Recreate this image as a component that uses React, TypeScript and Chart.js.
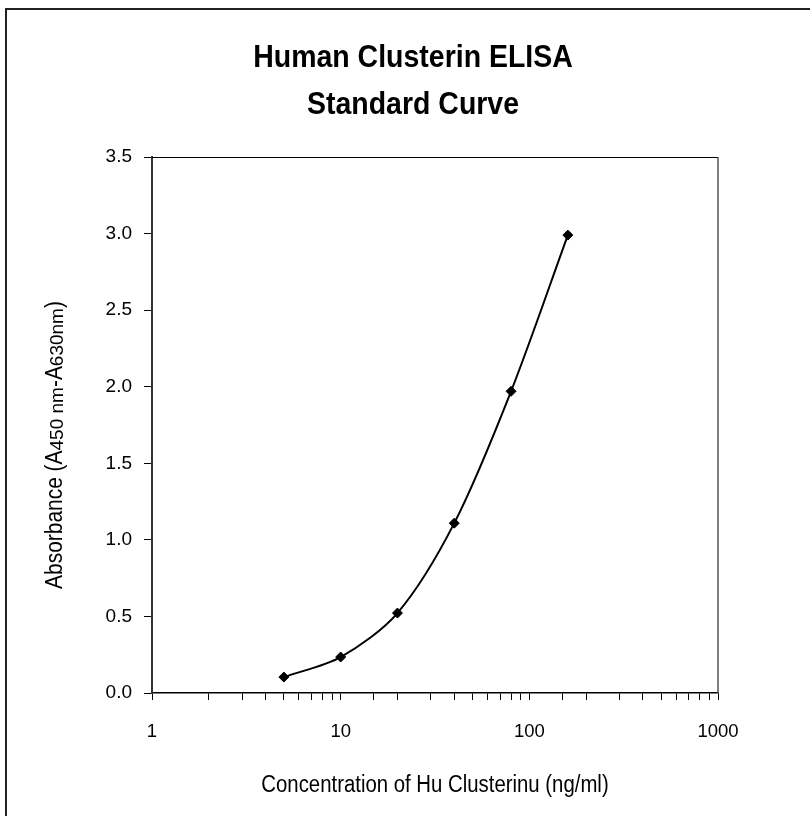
import React, { useEffect, useRef } from "react";
import { Chart, registerables } from "chart.js";

Chart.register(...registerables);

const titleLines = ["Human Clusterin ELISA", "Standard Curve"];
const xAxisTitle = "Concentration of Hu Clusterinu (ng/ml)";
const yAxisTitleParts = ["Absorbance (A", "450 nm", "-A", "630nm", ")"];
const yAxisTitleIsSub = [false, true, false, true, false];
const concentrations = [5, 10, 20, 40, 80, 160];
const absorbances = [0.104, 0.235, 0.522, 1.109, 1.97, 2.99];
const xLabelValues = [1, 10, 100, 1000];
const yMin = 0;
const yMax = 3.5;
const yStep = 0.5;

const FONT = '"Liberation Sans", Arial, Helvetica, sans-serif';

const decorPlugin = {
  id: "decor",
  beforeDraw(chart: any) {
    const ctx = chart.ctx;
    ctx.save();
    ctx.fillStyle = "#fff";
    ctx.fillRect(0, 0, chart.width, chart.height);
    ctx.fillStyle = "#222";
    ctx.fillRect(5, 8, chart.width, 2);
    ctx.fillRect(5, 8, 2, chart.height);
    ctx.restore();
  },
  afterDraw(chart: any) {
    const ctx = chart.ctx;
    const ca = chart.chartArea;
    ctx.save();
    ctx.strokeStyle = "#000";
    ctx.lineWidth = 1;
    ctx.beginPath();
    ctx.moveTo(ca.left, ca.top + 0.5);
    ctx.lineTo(ca.right, ca.top + 0.5);
    ctx.stroke();
    ctx.strokeStyle = "#555";
    ctx.lineWidth = 1.5;
    ctx.beginPath();
    ctx.moveTo(ca.right, ca.top);
    ctx.lineTo(ca.right, ca.bottom);
    ctx.stroke();

    ctx.fillStyle = "#000";
    // title
    ctx.save();
    ctx.font = "bold 32px " + FONT;
    ctx.textAlign = "center";
    ctx.textBaseline = "alphabetic";
    ctx.translate(413, 0);
    ctx.scale(0.89, 1);
    ctx.fillText(titleLines[0], 0, 67);
    ctx.fillText(titleLines[1], 0, 114);
    ctx.restore();

    // x axis title
    ctx.save();
    ctx.font = "23px " + FONT;
    ctx.textAlign = "center";
    ctx.textBaseline = "alphabetic";
    ctx.translate((ca.left + ca.right) / 2, 792);
    ctx.scale(0.885, 1);
    ctx.fillText(xAxisTitle, 0, 0);
    ctx.restore();

    // y axis title with subscripts
    const big = "23px " + FONT;
    const small = "19px " + FONT;
    const bigScale = 0.91;
    const smallScale = 1.0;
    ctx.save();
    ctx.translate(62, 445);
    ctx.rotate(-Math.PI / 2);
    ctx.textAlign = "left";
    ctx.textBaseline = "alphabetic";
    const widths: number[] = [];
    let total = 0;
    yAxisTitleParts.forEach((t, i) => {
      const s = yAxisTitleIsSub[i];
      ctx.font = s ? small : big;
      const w = ctx.measureText(t).width * (s ? smallScale : bigScale);
      widths.push(w);
      total += w;
    });
    let x = -total / 2;
    yAxisTitleParts.forEach((t, i) => {
      const s = yAxisTitleIsSub[i];
      ctx.save();
      ctx.font = s ? small : big;
      ctx.translate(x, s ? 1 : 0);
      ctx.scale(s ? smallScale : bigScale, 1);
      ctx.fillText(t, 0, 0);
      ctx.restore();
      x += widths[i];
    });
    ctx.restore();
    ctx.restore();
  },
};

export default function App() {
  const ref = useRef<HTMLCanvasElement | null>(null);
  useEffect(() => {
    document.body.style.margin = "0";
    const canvas = ref.current!;
    const chart = new Chart(canvas, {
      type: "line",
      data: {
        datasets: [
          {
            data: concentrations.map((c, i) => ({ x: c, y: absorbances[i] })),
            borderColor: "#000",
            backgroundColor: "#000",
            borderWidth: 2,
            pointStyle: "rectRot",
            pointRadius: 5,
            pointBorderWidth: 1,
            pointBackgroundColor: "#000",
            pointBorderColor: "#000",
            tension: 0.3,
            fill: false,
          },
        ],
      },
      options: {
        responsive: false,
        animation: false,
        layout: { padding: { top: 157, right: 92, left: 0, bottom: 0 } },
        plugins: {
          legend: { display: false },
          title: { display: false },
          tooltip: { enabled: false },
        },
        scales: {
          x: {
            type: "logarithmic",
            min: 1,
            max: 1000,
            afterFit: (s: any) => {
              s.height = 123;
            },
            border: { display: true, color: "#000", width: 1.5 },
            grid: {
              display: true,
              drawOnChartArea: false,
              drawTicks: true,
              tickLength: 7,
              color: "#000",
              tickWidth: 1,
            },
            ticks: {
              autoSkip: false,
              maxRotation: 0,
              padding: 21,
              color: "#000",
              font: { family: FONT, size: 18.5 },
              callback: (v: any) =>
                xLabelValues.includes(Number(v)) ? String(v) : "",
            },
          },
          y: {
            type: "linear",
            min: yMin,
            max: yMax,
            afterFit: (s: any) => {
              s.width = 152;
            },
            border: { display: true, color: "#333", width: 2 },
            grid: {
              display: true,
              drawOnChartArea: false,
              drawTicks: true,
              tickLength: 8,
              color: "#000",
            },
            ticks: {
              stepSize: yStep,
              padding: 12,
              color: "#000",
              font: { family: FONT, size: 19 },
              callback: (v: any) => Number(v).toFixed(1),
            },
          },
        },
      },
      plugins: [decorPlugin],
    });
    return () => chart.destroy();
  }, []);
  return (
    <canvas
      ref={ref}
      width={810}
      height={816}
      style={{ display: "block", width: 810, height: 816 }}
    />
  );
}
